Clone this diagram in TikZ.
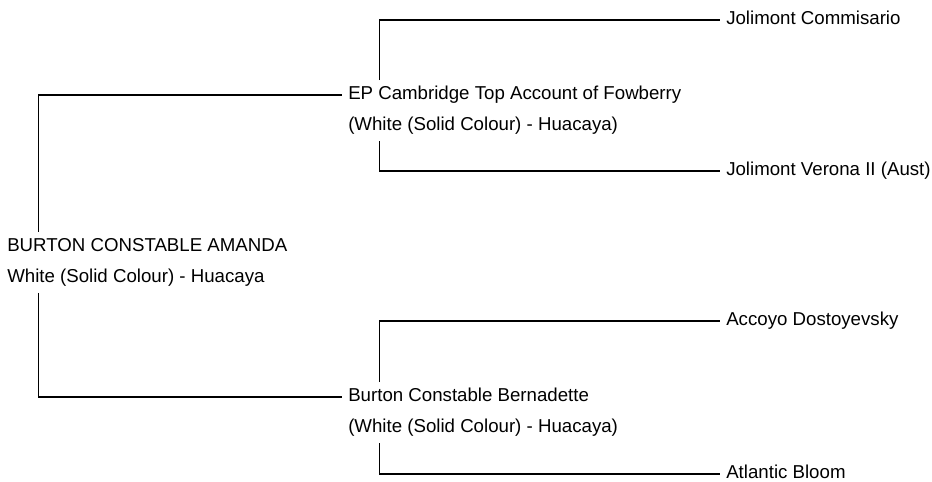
\documentclass[tikz,border=0pt]{standalone}
\usepackage{fontspec}
\setmainfont{Liberation Sans}
\usepackage{tikz}
\tikzstyle{entry}=[anchor=west,inner xsep=4.5pt,inner ysep=4.5pt,
  text height=10.2pt,text depth=2.9pt,font=\fontsize{14pt}{17pt}\selectfont]
\tikzstyle{link}=[draw=black,line width=0.8pt]

\begin{document}
\begin{tikzpicture}[x=0.75pt,y=-0.75pt]
    \useasboundingbox (0,0) rectangle (932,482);
    \node [style=entry] (root) at (1,246.8) {BURTON CONSTABLE AMANDA};
    \node [style=entry] (rootb) at (1,277.8) {White (Solid Colour) - Huacaya};
    \node [style=entry] (sire) at (342,95) {EP Cambridge Top Account of Fowberry};
    \node [style=entry] (sireb) at (342,126) {(White (Solid Colour) - Huacaya)};
    \node [style=entry] (dam) at (342,397) {Burton Constable Bernadette};
    \node [style=entry] (damb) at (342,428) {(White (Solid Colour) - Huacaya)};
    \node [style=entry] (ss) at (720,20) {Jolimont Commisario};
    \node [style=entry] (sd) at (720,171) {Jolimont Verona II (Aust)};
    \node [style=entry] (ds) at (720,321) {Accoyo Dostoyevsky};
    \node [style=entry] (dd) at (720,474) {Atlantic Bloom};
    \draw [style=link] ([xshift=28pt]root.north west) |- (sire.west);
    \draw [style=link] ([xshift=28pt]rootb.south west) |- (dam.west);
    \draw [style=link] ([xshift=28pt]sire.north west) |- (ss.west);
    \draw [style=link] ([xshift=28pt]sireb.south west) |- (sd.west);
    \draw [style=link] ([xshift=28pt]dam.north west) |- (ds.west);
    \draw [style=link] ([xshift=28pt]damb.south west) |- (dd.west);
  \end{tikzpicture}
\end{document}
